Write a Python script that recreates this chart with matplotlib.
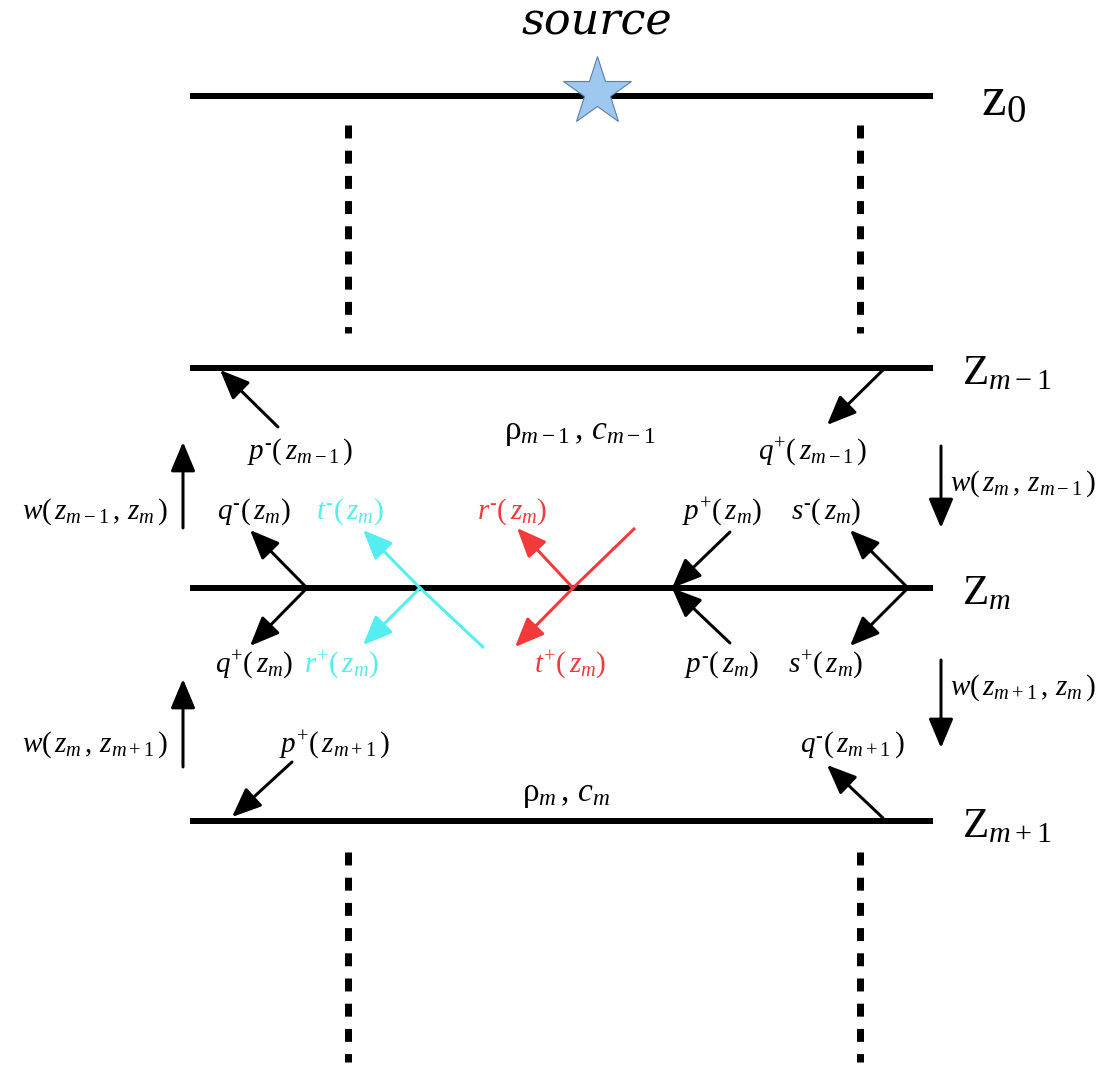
import numpy as np
import matplotlib
matplotlib.use('Agg')
import matplotlib.pyplot as plt

plt.rcParams['mathtext.fontset'] = 'custom'
plt.rcParams['mathtext.rm'] = 'Liberation Serif'
plt.rcParams['mathtext.it'] = 'Liberation Serif:italic'
plt.rcParams['mathtext.bf'] = 'Liberation Serif:bold'

# interfaces: label, y position
iface_lab = [r'$\mathrm{z}_0$', r'$\mathrm{Z}_{m-1}$', r'$\mathrm{Z}_m$', r'$\mathrm{Z}_{m+1}$']
iface_lx = [981, 962, 962, 962]
iface_fs = [40, 31, 31, 31]
iface_y = [96, 368, 588, 821]
iface_x = [190, 933]

# dashed continuation lines
dash_x = [348, 860]
dash_y = [[125, 333], [852, 1062]]

# arrows: tail (x, y), head (x, y), colour
arr_tail = [(278, 427), (883, 370),
            (307, 588), (307, 588), (908, 588), (908, 588),
            (730, 532), (730, 643),
            (573, 588), (573, 588), (420, 588), (420, 588),
            (292, 762), (883, 818),
            (183, 528), (183, 767), (941, 446), (941, 660)]
arr_head = [(220, 370), (827, 425),
            (250, 530), (250, 646), (850, 530), (850, 646),
            (672, 588), (672, 588),
            (517, 528), (515, 647), (363, 530), (363, 645),
            (232, 817), (827, 765),
            (183, 442), (183, 679), (941, 528), (941, 748)]
red = '#F23A3A'
cyan = '#55EEF0'
arr_col = ['k'] * 8 + [red, red, cyan, cyan] + ['k'] * 6

# tails of the straight transmitted rays
ray_ext = [((635, 528), (573, 588), red), ((484, 648), (420, 588), cyan)]

M = r'^{\text{-}}'
P = r'^{+}'
# wave labels: text, x, y, colour, alignment
lab_txt = [r'$p' + M + r'(\,z_{m-1}\,)$', r'$q' + P + r'(\,z_{m-1}\,)$',
           r'$q' + M + r'(\,z_m)$', r'$t' + M + r'(\,z_m)$', r'$r' + M + r'(\,z_m)$',
           r'$p' + P + r'(\,z_m)$', r'$s' + M + r'(\,z_m)$',
           r'$q' + P + r'(\,z_m)$', r'$r' + P + r'(\,z_m)$', r'$t' + P + r'(\,z_m)$',
           r'$p' + M + r'(\,z_m)$', r'$s' + P + r'(\,z_m)$',
           r'$p' + P + r'(\,z_{m+1}\,)$', r'$q' + M + r'(\,z_{m+1}\,)$',
           r'$w(\,z_{m-1}\,,\,z_m\,)$', r'$w(\,z_m\,,\,z_{m-1}\,)$',
           r'$w(\,z_{m+1}\,,\,z_m\,)$', r'$w(\,z_m\,,\,z_{m+1}\,)$',
           r'$\mathrm{\rho}_{m-1}\,,\,c_{m-1}$', r'$\mathrm{\rho}_m\,,\,c_m$']
lab_x = [300, 813, 254, 350, 512, 722, 826, 254, 342, 570, 722, 826, 335, 852,
         168, 950, 950, 168, 580, 566]
lab_y = [452, 452, 512, 512, 512, 512, 512, 665, 665, 665, 665, 665, 745, 745,
         512, 484, 688, 745, 432, 793]
lab_col = ['k'] * 3 + [cyan, red] + ['k'] * 3 + [cyan, red] + ['k'] * 10
lab_ha = ['center'] * 14 + ['right', 'left', 'left', 'right', 'center', 'center']
lab_fs = [21] * 18 + [24, 24]

fig = plt.figure(figsize=(11.12, 10.66), dpi=100)
ax = fig.add_axes([0, 0, 1, 1])
ax.set_xlim(0, 1112)
ax.set_ylim(1066, 0)
ax.axis('off')

px = 0.72  # points per pixel

for y, s, lx, fs in zip(iface_y, iface_lab, iface_lx, iface_fs):
    ax.plot(iface_x, [y, y], color='k', lw=6 * px, solid_capstyle='butt', zorder=2)
    ax.text(lx, y + 4, s, fontsize=fs, ha='left', va='center')

for x in dash_x:
    for y0, y1 in dash_y:
        ax.plot([x, x], [y0, y1], color='k', lw=7 * px, ls=(0, (1.85, 1.75)),
                dash_capstyle='butt')

for (x0, y0), (x1, y1), c in ray_ext:
    ax.plot([x0, x1], [y0, y1], color=c, lw=3 * px, solid_capstyle='butt', zorder=3)

for t, h, c in zip(arr_tail, arr_head, arr_col):
    ax.annotate('', xy=h, xytext=t,
                arrowprops=dict(arrowstyle='-|>,head_length=1.0,head_width=0.42',
                                mutation_scale=18, lw=3 * px, color=c,
                                shrinkA=0, shrinkB=0), zorder=4)

for s, x, y, c, ha, fs in zip(lab_txt, lab_x, lab_y, lab_col, lab_ha, lab_fs):
    ax.text(x, y, s, fontsize=fs, color=c, ha=ha, va='center')

ax.plot(597, 92, marker='*', ms=52, mfc='#9EC8F0', mec='#5E7FA6', mew=0.8, zorder=5)
ax.text(597, 22, 'source', fontsize=32, style='italic', family='DejaVu Serif',
        ha='center', va='center')

fig.savefig('out.png', dpi=100)
